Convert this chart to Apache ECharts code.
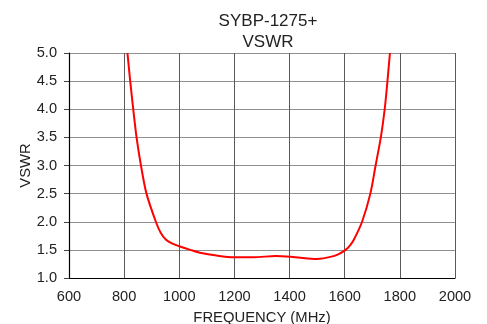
<!DOCTYPE html>
<html>
<head>
<meta charset="utf-8">
<script src="https://cdn.jsdelivr.net/npm/echarts@6/dist/echarts.min.js"></script>
<style>
  html, body { margin: 0; padding: 0; background: #fff; }
  #chart { width: 487px; height: 324px; }
</style>
</head>
<body>
<div id="chart"></div>
<script>
// frequency (MHz) and VSWR
const freq = [812, 822, 833, 845, 861, 881, 915, 933, 952, 975, 1002, 1040, 1075, 1135, 1200, 1270, 1350, 1420, 1500, 1552, 1580, 1603, 1618, 1633, 1663, 1693, 1712, 1731, 1745, 1755, 1764];
const vswr = [5.0, 4.5, 4.0, 3.5, 3.0, 2.5, 2.0, 1.80, 1.68, 1.61, 1.56, 1.50, 1.45, 1.40, 1.37, 1.37, 1.39, 1.37, 1.34, 1.38, 1.43, 1.50, 1.57, 1.68, 2.0, 2.5, 3.0, 3.5, 4.0, 4.5, 5.0];
const xTicks = [600, 800, 1000, 1200, 1400, 1600, 1800, 2000];
const yTicks = [1.0, 1.5, 2.0, 2.5, 3.0, 3.5, 4.0, 4.5, 5.0];

const font = 'Liberation Sans, Arial, sans-serif';
const chart = echarts.init(document.getElementById('chart'));
chart.setOption({
  animation: false,
  title: {
    text: 'SYBP-1275+\nVSWR',
    left: 263,
    top: 6,
    textAlign: 'center',
    textStyle: { fontFamily: font, fontSize: 17, fontWeight: 'normal', color: '#222', lineHeight: 21 }
  },
  grid: { left: 69, right: 32, top: 53, bottom: 46, outerBoundsMode: 'none', containLabel: false },
  xAxis: {
    type: 'value',
    min: xTicks[0],
    max: xTicks[xTicks.length - 1],
    interval: 200,
    name: 'FREQUENCY (MHz)',
    nameLocation: 'middle',
    nameGap: 32,
    nameMoveOverlap: false,
    nameTextStyle: { fontFamily: font, fontSize: 14.8, color: '#222' },
    axisLine: { lineStyle: { color: '#000', width: 1.2 } },
    axisTick: { show: false },
    axisLabel: { fontFamily: font, fontSize: 14.6, color: '#222', margin: 11, formatter: v => String(v) },
    splitLine: { show: true, lineStyle: { color: '#5a5a5a', width: 1 } }
  },
  yAxis: {
    type: 'value',
    min: yTicks[0],
    max: yTicks[yTicks.length - 1],
    interval: 0.5,
    name: 'VSWR',
    nameLocation: 'middle',
    nameGap: 36,
    nameMoveOverlap: false,
    nameTextStyle: { fontFamily: font, fontSize: 14.8, color: '#222' },
    axisLine: { show: true, lineStyle: { color: '#000', width: 1.2 } },
    axisTick: { show: true, length: 5, lineStyle: { color: '#444' } },
    axisLabel: { fontFamily: font, fontSize: 14.6, color: '#222', margin: 12, formatter: v => v.toFixed(1) },
    splitLine: { show: true, lineStyle: { color: '#909090', width: 1 } }
  },
  series: [{
    type: 'line',
    data: freq.map((f, i) => [f, vswr[i]]),
    smooth: 0.3,
    showSymbol: false,
    lineStyle: { color: '#ff0000', width: 2 }
  }]
});
</script>
</body>
</html>
